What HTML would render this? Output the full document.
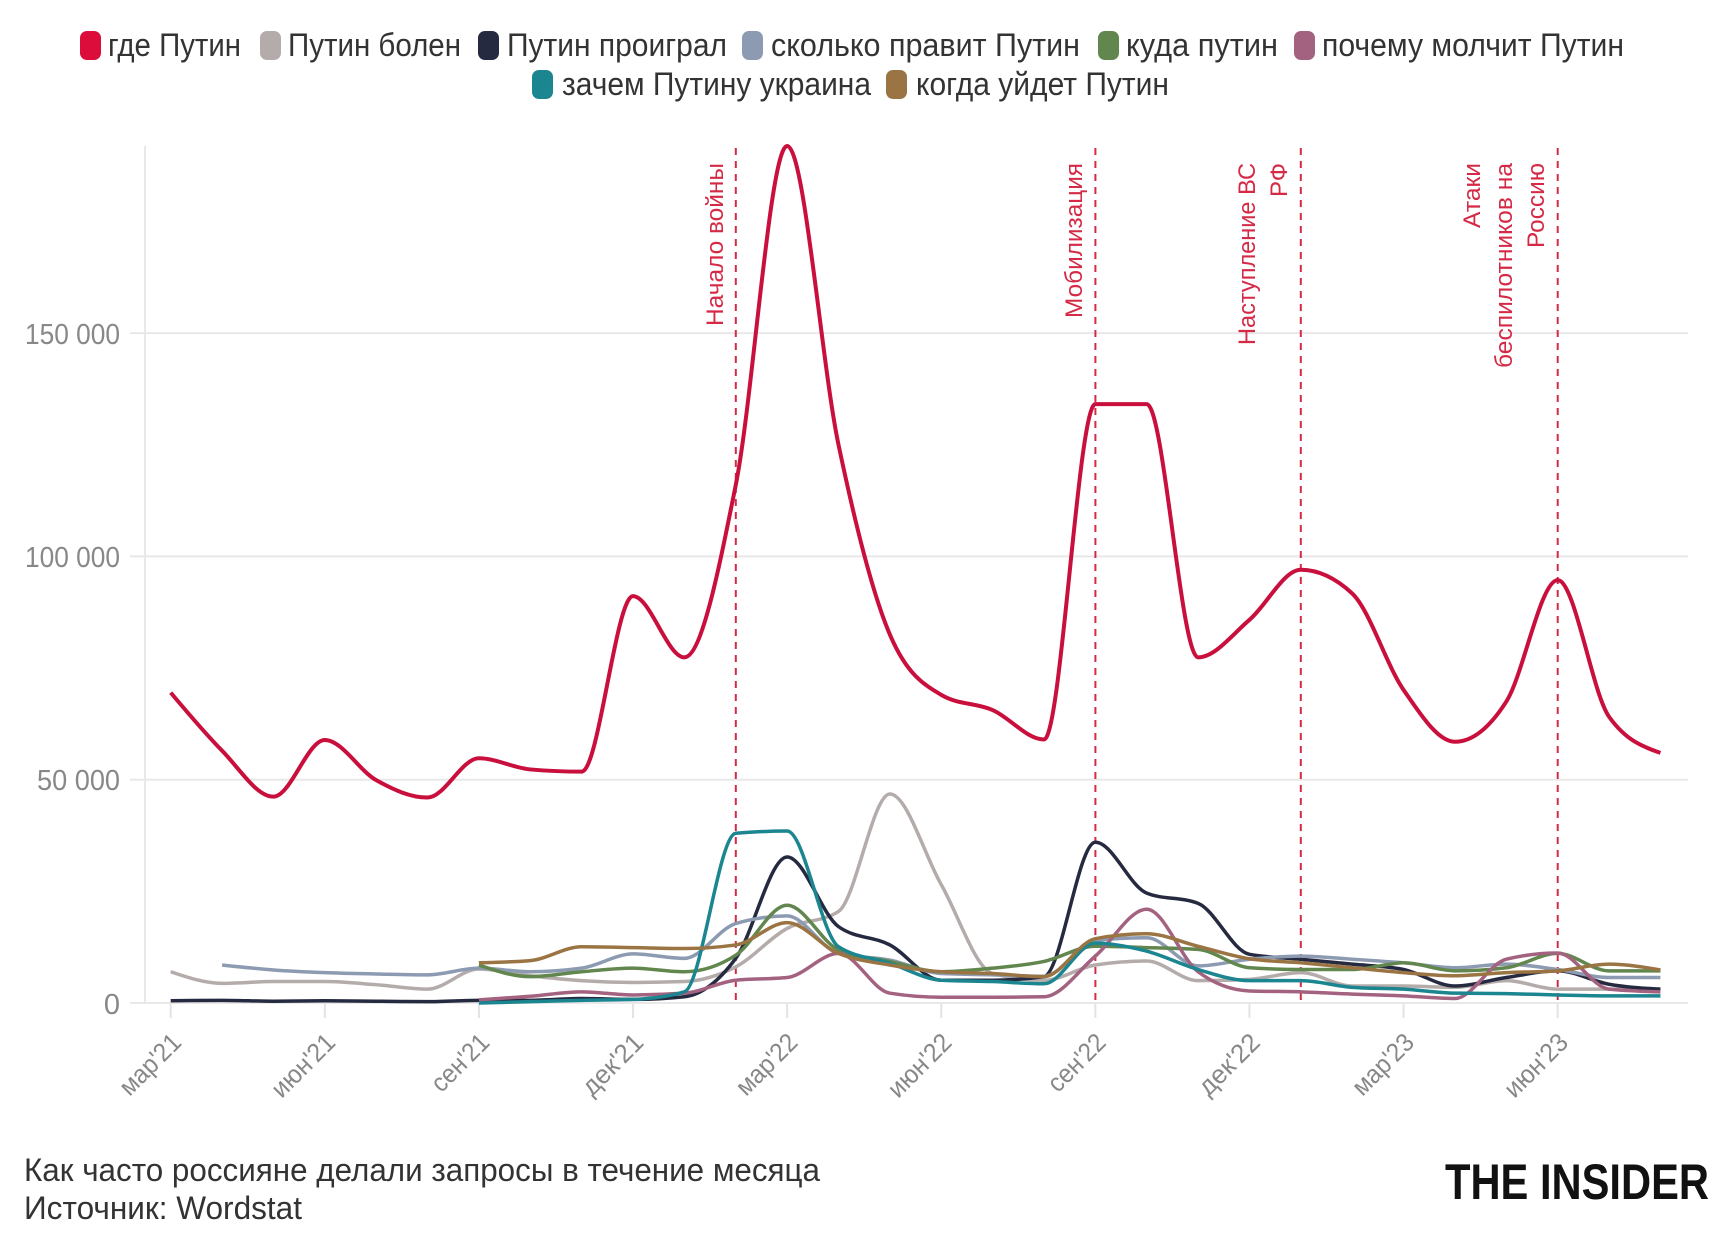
<!DOCTYPE html>
<html><head><meta charset="utf-8">
<style>
html,body{margin:0;padding:0;background:#fff;}
svg{display:block;}
.lg{font-family:"Liberation Sans Narrow","Liberation Sans","Noto Sans CJK SC",sans-serif;font-size:32px;fill:#333;}
.yl{font-family:"Liberation Sans Narrow","Liberation Sans",sans-serif;font-size:29px;fill:#888;}
.xl{font-family:"Liberation Sans Narrow","Liberation Sans",sans-serif;font-size:26px;fill:#888;}
.an{font-family:"Liberation Sans",sans-serif;font-size:24px;fill:#d42a45;}
.ft{font-family:"Liberation Sans Narrow","Liberation Sans",sans-serif;font-size:32px;fill:#333;}
.logo{font-family:"Liberation Sans",sans-serif;font-weight:bold;font-size:50px;fill:#111;}
</style></head>
<body>
<svg id="s" width="1732" height="1251" viewBox="0 0 1732 1251" xmlns="http://www.w3.org/2000/svg">
<rect width="1732" height="1251" fill="#fff"/>
<!-- legend row 1 -->
<rect x="80" y="31" width="21" height="29" rx="7" fill="#dc0d3a"/>
<text class="lg" x="108" y="56" textLength="133" lengthAdjust="spacingAndGlyphs">где Путин</text>
<rect x="260" y="31" width="21" height="29" rx="7" fill="#b4acaa"/>
<text class="lg" x="288" y="56" textLength="173" lengthAdjust="spacingAndGlyphs">Путин болен</text>
<rect x="478" y="31" width="21" height="29" rx="7" fill="#252a40"/>
<text class="lg" x="507" y="56" textLength="220" lengthAdjust="spacingAndGlyphs">Путин проиграл</text>
<rect x="742" y="31" width="21" height="29" rx="7" fill="#8c9bb2"/>
<text class="lg" x="771" y="56" textLength="309" lengthAdjust="spacingAndGlyphs">сколько правит Путин</text>
<rect x="1098" y="31" width="21" height="29" rx="7" fill="#62874e"/>
<text class="lg" x="1126" y="56" textLength="152" lengthAdjust="spacingAndGlyphs">куда путин</text>
<rect x="1294" y="31" width="21" height="29" rx="7" fill="#a3627f"/>
<text class="lg" x="1322" y="56" textLength="302" lengthAdjust="spacingAndGlyphs">почему молчит Путин</text>
<!-- legend row 2 -->
<rect x="532" y="70" width="21" height="29" rx="7" fill="#1b8590"/>
<text class="lg" x="562" y="95" textLength="309" lengthAdjust="spacingAndGlyphs">зачем Путину украина</text>
<rect x="886" y="70" width="21" height="29" rx="7" fill="#9b7444"/>
<text class="lg" x="916" y="95" textLength="253" lengthAdjust="spacingAndGlyphs">когда уйдет Путин</text>

<!-- grid -->
<g stroke="#e8e8e8" stroke-width="2">
<line x1="130" y1="1003" x2="1688" y2="1003"/>
<line x1="130" y1="779.7" x2="1688" y2="779.7"/>
<line x1="130" y1="556.4" x2="1688" y2="556.4"/>
<line x1="130" y1="333.1" x2="1688" y2="333.1"/>
<line x1="145" y1="146" x2="145" y2="1003"/>
</g>
<g id="ticks" stroke="#e3e3e3" stroke-width="2"></g>
<!-- y labels -->
<text class="yl" x="120" y="344" text-anchor="end" textLength="95" lengthAdjust="spacingAndGlyphs">150 000</text>
<text class="yl" x="120" y="567" text-anchor="end" textLength="95" lengthAdjust="spacingAndGlyphs">100 000</text>
<text class="yl" x="120" y="790" text-anchor="end" textLength="83" lengthAdjust="spacingAndGlyphs">50 000</text>
<text class="yl" x="120" y="1014" text-anchor="end">0</text>
<g id="xlabels"></g>

<!-- dashed event lines -->
<g stroke="#d42a45" stroke-width="2" stroke-dasharray="7,6">
<line x1="735.8" y1="148" x2="735.8" y2="1003"/>
<line x1="1095.4" y1="148" x2="1095.4" y2="1003"/>
<line x1="1300.8" y1="148" x2="1300.8" y2="1003"/>
<line x1="1557.7" y1="148" x2="1557.7" y2="1003"/>
</g>
<g id="series" fill="none" stroke-linejoin="round" stroke-linecap="butt"></g>

<!-- annotations -->
<text class="an" transform="translate(723,163) rotate(-90)" text-anchor="end" textLength="163" lengthAdjust="spacingAndGlyphs">Начало войны</text>
<text class="an" transform="translate(1082,163) rotate(-90)" text-anchor="end" textLength="155" lengthAdjust="spacingAndGlyphs">Мобилизация</text>
<text class="an" transform="translate(1255,163) rotate(-90)" text-anchor="end" textLength="182" lengthAdjust="spacingAndGlyphs">Наступление ВС</text>
<text class="an" transform="translate(1287,163) rotate(-90)" text-anchor="end">РФ</text>
<text class="an" transform="translate(1480,163) rotate(-90)" text-anchor="end" textLength="65" lengthAdjust="spacingAndGlyphs">Атаки</text>
<text class="an" transform="translate(1512,163) rotate(-90)" text-anchor="end" textLength="205" lengthAdjust="spacingAndGlyphs">беспилотников на</text>
<text class="an" transform="translate(1544,163) rotate(-90)" text-anchor="end" textLength="85" lengthAdjust="spacingAndGlyphs">Россию</text>

<!-- footer -->
<text class="ft" x="24" y="1181" textLength="796" lengthAdjust="spacingAndGlyphs">Как часто россияне делали запросы в течение месяца</text>
<text class="ft" x="24" y="1219" textLength="278" lengthAdjust="spacingAndGlyphs">Источник: Wordstat</text>
<text class="logo" x="1445" y="1199" textLength="264" lengthAdjust="spacingAndGlyphs">THE INSIDER</text>
</svg>
<script>
(function(){
var NS="http://www.w3.org/2000/svg";
function X(i){return 170.7+51.37*i;}
function Y(v){return 1003-v*4.466;}
// ticks and x labels
var tg=document.getElementById("ticks"), xg=document.getElementById("xlabels");
var labs=["мар'21","июн'21","сен'21","дек'21","мар'22","июн'22","сен'22","дек'22","мар'23","июн'23"];
var lens=[75,78,70,75,75,78,70,75,75,78];
for(var k=0;k<labs.length;k++){
  var x=X(k*3);
  var l=document.createElementNS(NS,"line");
  l.setAttribute("x1",x);l.setAttribute("x2",x);l.setAttribute("y1",1004);l.setAttribute("y2",1018);
  tg.appendChild(l);
  var t=document.createElementNS(NS,"text");
  t.setAttribute("class","xl");
  t.setAttribute("text-anchor","end");
  t.setAttribute("transform","translate("+(x+12)+",1044) rotate(-45)");
  t.setAttribute("textLength",lens[k]);
  t.setAttribute("lengthAdjust","spacingAndGlyphs");
  t.textContent=labs[k];
  xg.appendChild(t);
}
function sgn(x){return x<0?-1:1;}
function path(start,vals){
  var xs=[],ys=[];
  for(var i=0;i<vals.length;i++){xs.push(X(start+i));ys.push(Y(vals[i]));}
  var n=xs.length,m=new Array(n);
  for(var i=1;i<n-1;i++){
    var h0=xs[i]-xs[i-1],h1=xs[i+1]-xs[i];
    var s0=(ys[i]-ys[i-1])/h0,s1=(ys[i+1]-ys[i])/h1;
    var p=(s0*h1+s1*h0)/(h0+h1);
    m[i]=(sgn(s0)+sgn(s1))*Math.min(Math.abs(s0),Math.abs(s1),0.5*Math.abs(p))||0;
  }
  var hA=xs[1]-xs[0];m[0]=(3*(ys[1]-ys[0])/hA-m[1])/2;
  var hB=xs[n-1]-xs[n-2];m[n-1]=(3*(ys[n-1]-ys[n-2])/hB-m[n-2])/2;
  var d="M"+xs[0].toFixed(2)+","+ys[0].toFixed(2);
  for(var i=0;i<n-1;i++){
    var dx=(xs[i+1]-xs[i])/3;
    d+="C"+(xs[i]+dx).toFixed(2)+","+(ys[i]+dx*m[i]).toFixed(2)+","+(xs[i+1]-dx).toFixed(2)+","+(ys[i+1]-dx*m[i+1]).toFixed(2)+","+xs[i+1].toFixed(2)+","+ys[i+1].toFixed(2);
  }
  return d;
}
var series=[
 ["#c90f3c",4,0,[69.5,56.5,46.2,58.9,49.9,46.0,54.8,52.3,51.8,91.1,77.4,116,191.9,125,82.5,69.0,65.6,59.0,134.1,134.1,77.4,85.8,97.0,91.7,70.1,58.5,67.5,94.7,64.1,56.0]],
 ["#b4acaa",3.5,0,[7.0,4.4,4.8,4.8,4.1,3.1,7.6,6.1,5.0,4.6,4.8,8.1,16.7,20.5,46.8,26.5,6.6,5.1,8.5,9.4,5.0,5.3,6.8,3.8,3.8,3.5,5.0,3.1,3.1,3.1]],
 ["#252a40",3.5,0,[0.5,0.6,0.4,0.5,0.4,0.3,0.6,0.6,1.0,0.8,1.4,10,32.7,17.1,13.0,5.1,5.1,5.9,36.0,24.6,22.3,10.9,9.8,8.7,7.5,3.8,5.7,7.2,4.2,3.1]],
 ["#8c9bb2",3.5,1,[8.5,7.4,6.8,6.5,6.3,7.8,7.0,7.8,11.0,10.0,17.8,19.5,11.1,9.6,6.6,6.3,6.0,14.0,14.6,8.3,9.8,10.5,9.8,9.0,7.9,8.7,7.5,5.7,5.7]],
 ["#62874e",3.5,6,[8.5,5.9,7.0,7.8,7.0,10.7,21.9,11.9,9.3,7.0,7.8,9.3,12.7,12.4,12.0,7.9,7.5,7.5,9.0,7.2,7.9,11.1,7.2,7.2]],
 ["#a3627f",3.5,6,[0.7,1.5,2.5,1.8,2.2,5.1,5.7,11.1,2.2,1.3,1.3,1.4,10.5,21.0,7.0,2.7,2.5,2.0,1.6,1.0,9.8,11.2,3.1,2.5]],
 ["#1b8590",3.5,6,[0.0,0.3,0.6,0.8,2.5,38.0,38.5,12.6,8.9,5.1,4.8,4.3,13.4,11.6,7.5,5.0,5.0,3.5,3.1,2.2,2.1,1.8,1.6,1.6]],
 ["#9b7444",3.5,6,[9.0,9.5,12.6,12.4,12.2,13.0,18.0,11.1,8.5,7.0,6.6,5.9,14.4,15.5,12.7,9.9,9.0,7.9,6.8,6.1,6.8,7.2,8.7,7.4]]
];
var g=document.getElementById("series");
for(var s=0;s<series.length;s++){
  var p=document.createElementNS(NS,"path");
  p.setAttribute("d",path(series[s][2],series[s][3]));
  p.setAttribute("stroke",series[s][0]);
  p.setAttribute("stroke-width",series[s][1]);
  g.appendChild(p);
}
})();
</script>
</body></html>
